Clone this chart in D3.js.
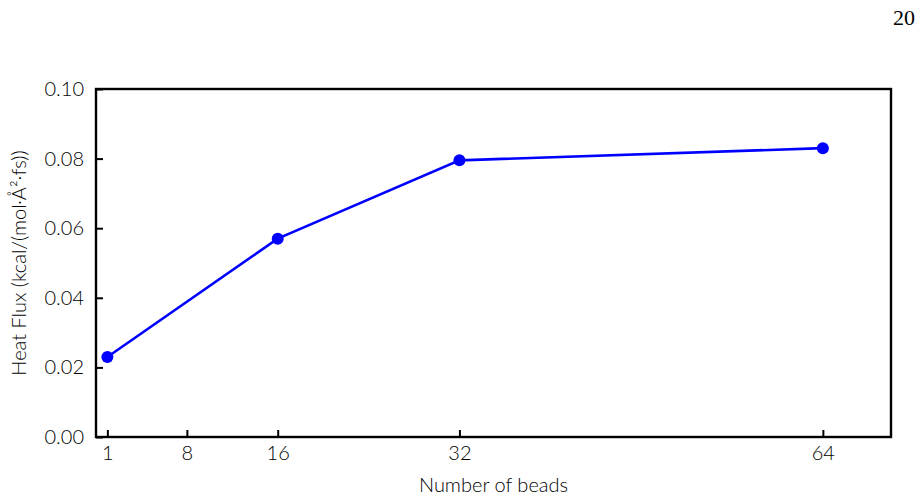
<!DOCTYPE html>
<html>
<head>
<meta charset="utf-8">
<script src="https://cdn.jsdelivr.net/npm/d3@7"></script>
<style>
  body { margin: 0; background: #fff; }
  text { font-family: "Lato", "DejaVu Sans", sans-serif; font-weight: 300; fill: #000; }
</style>
</head>
<body>
<div id="chart"></div>
<script>
const beads = [1, 16, 32, 64];
const heatFlux = [0.023, 0.057, 0.0795, 0.083];
const xTicks = [1, 8, 16, 32, 64];
const yTicks = [0, 0.02, 0.04, 0.06, 0.08, 0.10];

const width = 921, height = 499;
const margin = {top: 89, right: 30, bottom: 62, left: 96};

const svg = d3.select("#chart").append("svg")
  .attr("width", width)
  .attr("height", height);

const x = d3.scaleLinear().domain([0, 70]).range([margin.left, width - margin.right]);
const y = d3.scaleLinear().domain([0, 0.10]).range([height - margin.bottom, margin.top]);

// page number
svg.append("text")
  .attr("x", 915).attr("y", 25)
  .attr("text-anchor", "end")
  .style("font-family", "'Liberation Serif', serif")
  .style("font-weight", "400")
  .style("font-size", "22px")
  .text("20");

// ticks (inward)
const xAxis = d3.axisBottom(x).tickValues(xTicks).tickSize(-7).tickPadding(9)
  .tickFormat(d3.format("d"));
const yAxis = d3.axisLeft(y).tickValues(yTicks).tickSize(-7).tickPadding(12)
  .tickFormat(d3.format(".2f"));

const gx = svg.append("g")
  .attr("transform", "translate(0," + y(0) + ")")
  .call(xAxis);
const gy = svg.append("g")
  .attr("transform", "translate(" + x(0) + ",0)")
  .call(yAxis);

[gx, gy].forEach(g => {
  g.select(".domain").remove();
  g.selectAll(".tick line").attr("stroke", "#000").attr("stroke-width", 2);
  g.selectAll(".tick text").style("font-size", "20px").attr("fill", "#000");
});

// frame
svg.append("rect")
  .attr("x", x(0)).attr("y", y(0.10))
  .attr("width", x(70) - x(0))
  .attr("height", y(0) - y(0.10))
  .attr("fill", "none")
  .attr("stroke", "#000")
  .attr("stroke-width", 2.4);

const pts = beads.map((b, i) => [b, heatFlux[i]]);

svg.append("path")
  .datum(pts)
  .attr("fill", "none")
  .attr("stroke", "blue")
  .attr("stroke-width", 2.6)
  .attr("d", d3.line().x(d => x(d[0])).y(d => y(d[1])));

svg.selectAll("circle.pt")
  .data(pts)
  .enter().append("circle")
  .attr("class", "pt")
  .attr("cx", d => x(d[0]))
  .attr("cy", d => y(d[1]))
  .attr("r", 6)
  .attr("fill", "blue");

// axis labels
svg.append("text")
  .attr("x", (x(0) + x(70)) / 2)
  .attr("y", 492)
  .attr("text-anchor", "middle")
  .style("font-size", "20px")
  .text("Number of beads");

svg.append("text")
  .attr("transform", "translate(26," + ((y(0) + y(0.10)) / 2) + ") rotate(-90)")
  .attr("text-anchor", "middle")
  .style("font-size", "20px")
  .text("Heat Flux (kcal/(mol·Å²·fs))");
</script>
</body>
</html>
